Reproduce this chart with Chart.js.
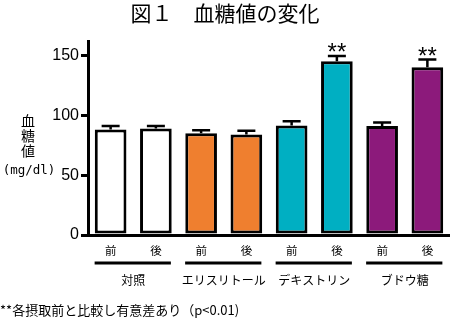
<!DOCTYPE html>
<html>
<head>
<meta charset="utf-8">
<script src="https://cdn.jsdelivr.net/npm/chart.js@4/dist/chart.umd.min.js"></script>
<style>
  html, body { margin: 0; padding: 0; background: #fff; }
  canvas { display: block; }
</style>
</head>
<body>
<canvas id="chart" width="450" height="321"></canvas>
<script>
  const categories = ["前", "後", "前", "後", "前", "後", "前", "後"];
  const groups = ["対照", "エリスリトール", "デキストリン", "ブドウ糖"];
  const means = [88, 89, 85, 84, 91.5, 145, 91, 140];
  const errors = [3, 2, 2.5, 3, 3.5, 4.5, 3, 6.5];
  const marks = ["", "", "", "", "", "**", "", "**"];
  const yTicks = [0, 50, 100, 150];
  const yTitle = ["血", "糖", "値"];
  const yUnit = "(mg/dl)";
  const footnote = "**各摂取前と比較し有意差あり（p<0.01)";

  const barColors = [
    "#ffffff", "#ffffff",
    "#ef7f2f", "#ef7f2f",
    "#00afc2", "#00afc2",
    "#8c1a7b", "#8c1a7b",
  ];

  const CJK = "'Noto Sans CJK JP', 'Noto Sans', sans-serif";

  // error bars, asterisks, group underlines and the y title
  const extras = {
    id: "extras",
    afterDatasetsDraw(chart) {
      const ctx = chart.ctx;
      const x = chart.scales.x;
      const y = chart.scales.y;
      ctx.save();
      ctx.strokeStyle = "#000";
      ctx.fillStyle = "#000";

      means.forEach((m, i) => {
        const cx = x.getPixelForValue(i);
        const top = y.getPixelForValue(m + errors[i]);
        const base = y.getPixelForValue(m);
        ctx.lineWidth = 2.5;
        ctx.beginPath();
        ctx.moveTo(cx, base);
        ctx.lineTo(cx, top);
        ctx.moveTo(cx - 9, top);
        ctx.lineTo(cx + 9, top);
        ctx.stroke();
        if (marks[i]) {
          ctx.font = "24px 'Liberation Sans', Arial, sans-serif";
          ctx.textAlign = "center";
          ctx.textBaseline = "alphabetic";
          ctx.fillText(marks[i], cx, top + 4);
        }
      });

      ctx.lineWidth = 3;
      groups.forEach((g, k) => {
        const x0 = x.getPixelForValue(k * 2) - 16;
        const x1 = x.getPixelForValue(k * 2 + 1) + 15;
        ctx.beginPath();
        ctx.moveTo(x0, 263);
        ctx.lineTo(x1, 263);
        ctx.stroke();
      });

      ctx.textAlign = "center";
      ctx.textBaseline = "middle";
      ctx.font = "14px " + CJK;
      yTitle.forEach((t, k) => ctx.fillText(t, 28, 121 + k * 15));
      ctx.font = "12.5px 'DejaVu Sans Mono', monospace";
      ctx.fillText(yUnit, 29, 171);
      ctx.restore();
    },
  };

  new Chart(document.getElementById("chart"), {
    type: "bar",
    data: {
      labels: categories,
      datasets: [
        {
          data: means,
          backgroundColor: barColors,
          borderColor: "#000",
          borderWidth: 3,
          borderSkipped: false,
          categoryPercentage: 1,
          barPercentage: 0.7,
        },
      ],
    },
    options: {
      responsive: false,
      animation: false,
      devicePixelRatio: 1,
      layout: { padding: 0 },
      plugins: {
        legend: { display: false },
        tooltip: { enabled: false },
        title: {
          display: true,
          text: "図１　血糖値の変化",
          color: "#000",
          font: { family: CJK, size: 21, weight: "normal" },
          padding: { top: 0, bottom: 15.8 },
        },
        subtitle: {
          display: true,
          text: footnote,
          position: "bottom",
          align: "start",
          color: "#000",
          font: { family: CJK, size: 13, weight: "normal" },
          padding: { top: 0, bottom: 3 },
        },
      },
      scales: {
        x: {
          weight: 0,
          grid: { display: false, drawTicks: false },
          border: { color: "#000", width: 3 },
          ticks: {
            color: "#000",
            font: { family: CJK, size: 11.5 },
            padding: 9,
            maxRotation: 0,
            autoSkip: false,
          },
          afterFit: (s) => { s.height = 25; },
        },
        x2: {
          type: "category",
          labels: groups,
          position: "bottom",
          offset: true,
          weight: 1,
          grid: { display: false, drawTicks: false },
          border: { display: false },
          ticks: {
            color: "#000",
            font: { family: CJK, size: 12 },
            padding: 13,
            maxRotation: 0,
            autoSkip: false,
          },
          afterFit: (s) => { s.height = 321 - 235 - 25 - 18.6; },
        },
        y: {
          min: 0,
          max: 162,
          grid: {
            drawOnChartArea: false,
            color: "#000",
            lineWidth: 3,
            tickLength: 7,
          },
          border: { color: "#000", width: 3 },
          ticks: {
            color: "#000",
            font: { family: "'Liberation Sans', Arial, sans-serif", size: 16 },
            padding: 2,
          },
          afterBuildTicks: (s) => { s.ticks = yTicks.map((v) => ({ value: v })); },
          afterFit: (s) => { s.width = 88; },
        },
      },
    },
    plugins: [extras],
  });
</script>
</body>
</html>
